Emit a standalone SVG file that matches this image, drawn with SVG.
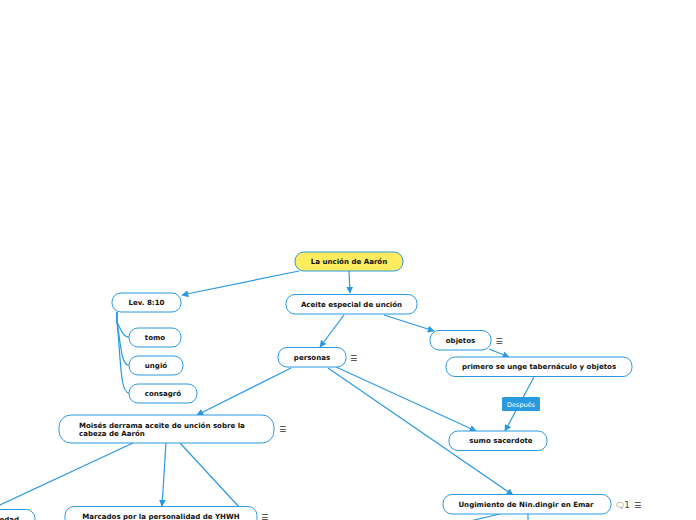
<svg xmlns="http://www.w3.org/2000/svg" width="696" height="520" viewBox="0 0 696 520">
<defs>
<marker id="ah" viewBox="0 0 10 10" refX="9" refY="5" markerWidth="7" markerHeight="7" markerUnits="userSpaceOnUse" orient="auto"><path d="M0,0 L10,5 L0,10 z" fill="#2a9ae0"/></marker>
<style>
.n{fill:#fff;stroke:#2a9ae0;stroke-width:1}
.r{fill:#ffeb5e;stroke:#2a9ae0;stroke-width:1}
.t{font-family:"DejaVu Sans",Verdana,sans-serif;font-weight:bold;font-size:7.05px;fill:#111}
.c{fill:none;stroke:#2a9ae0;stroke-width:1.2}
.i{font-family:"DejaVu Sans",sans-serif;font-size:8px;fill:#333}
</style>
</defs>
<rect width="696" height="520" fill="#fff"/>
<g id="connectors">
<path class="c" d="M299,271 L182,295" marker-end="url(#ah)"/>
<path class="c" d="M349,271 L350,293" marker-end="url(#ah)"/>
<path class="c" d="M117,312 L117,322 C121,330 123,337 129,337"/>
<path class="c" d="M117,312 L117,322 C121,345 121,365 129,365"/>
<path class="c" d="M117,312 L117,322 C121,360 120,393 129,393"/>
<path class="c" d="M344,315 L320,347" marker-end="url(#ah)"/>
<path class="c" d="M384,315 L434,331" marker-end="url(#ah)"/>
<path class="c" d="M489,349 L509,357" marker-end="url(#ah)"/>
<path class="c" d="M534,377 L505,431" marker-end="url(#ah)"/>
<path class="c" d="M291,368 L197,415" marker-end="url(#ah)"/>
<path class="c" d="M336,367 L476,431" marker-end="url(#ah)"/>
<path class="c" d="M328,368 L513,495" marker-end="url(#ah)"/>
<path class="c" d="M133,443 L0,505"/>
<path class="c" d="M166,443 L162,506" marker-end="url(#ah)"/>
<path class="c" d="M180,443 L240,508"/>
<path class="c" d="M500,514 L470,521"/>
<path class="c" d="M528,514 L528,521"/>
<rect x="502" y="397" width="38" height="14" rx="1.5" fill="#2a9ae0"/>
<text x="521" y="406.5" text-anchor="middle" font-family="DejaVu Sans,sans-serif" font-size="6.5" fill="#fff">Después</text>
</g>
<g id="root"><rect class="r" x="295" y="252" width="108" height="19" rx="9"/><text class="t" x="349" y="264" text-anchor="middle">La unción de Aarón</text></g>
<g id="aceite"><rect class="n" x="286" y="294.5" width="131" height="19.5" rx="9"/><text class="t" x="351.5" y="306.5" text-anchor="middle">Aceite especial de unción</text></g>
<g id="lev"><rect class="n" x="112" y="293" width="69" height="19" rx="9"/><text class="t" x="146.5" y="305" text-anchor="middle">Lev. 8:10</text></g>
<g id="tomo"><rect class="n" x="129" y="328" width="52" height="19" rx="9"/><text class="t" x="155" y="340" text-anchor="middle">tomo</text></g>
<g id="ungio"><rect class="n" x="129" y="356" width="54" height="19" rx="9"/><text class="t" x="156" y="368" text-anchor="middle">ungió</text></g>
<g id="consagro"><rect class="n" x="129" y="384" width="68" height="19" rx="9"/><text class="t" x="163" y="396" text-anchor="middle">consagró</text></g>
<g id="personas"><rect class="n" x="278" y="347.5" width="68" height="19.5" rx="9"/><text class="t" x="312" y="359.5" text-anchor="middle">personas</text><text class="i" x="350" y="360.5">☰</text></g>
<g id="objetos"><rect class="n" x="430" y="330.5" width="61" height="19.5" rx="9"/><text class="t" x="460.5" y="342.5" text-anchor="middle">objetos</text><text class="i" x="495.5" y="343.5">☰</text></g>
<g id="primero"><rect class="n" x="446" y="357" width="186" height="19.5" rx="9"/><text class="t" x="539" y="369" text-anchor="middle">primero se unge tabernáculo y objetos</text></g>
<g id="sumo"><rect class="n" x="449" y="431" width="98" height="19.5" rx="9"/><text class="t" x="501" y="443" text-anchor="middle">sumo sacerdote</text></g>
<g id="moises"><rect class="n" x="59" y="415" width="215" height="28" rx="12"/><text class="t" x="79" y="427.5">Moisés derrama aceite de unción sobre la</text><text class="t" x="79" y="436">cabeza de Aarón</text><text class="i" x="279" y="432">☰</text></g>
<g id="marcados"><rect class="n" x="65" y="506.5" width="192" height="22" rx="9"/><text class="t" x="161" y="519" text-anchor="middle">Marcados por la personalidad de YHWH</text><text class="i" x="261" y="519.5">☰</text></g>
<g id="edad"><rect class="n" x="-40" y="509.5" width="75" height="22" rx="9"/><text class="t" x="19" y="521.5" text-anchor="end">edad</text></g>
<g id="ungimiento"><rect class="n" x="443" y="494.5" width="168" height="19.5" rx="9"/><text class="t" x="526" y="506.5" text-anchor="middle">Ungimiento de Nin.dingir en Emar</text><text class="i" x="615" y="507.5">🗨</text><text class="i" x="624.5" y="507.5" font-size="7">1</text><text class="i" x="634" y="507.5">☰</text></g>
</svg>
